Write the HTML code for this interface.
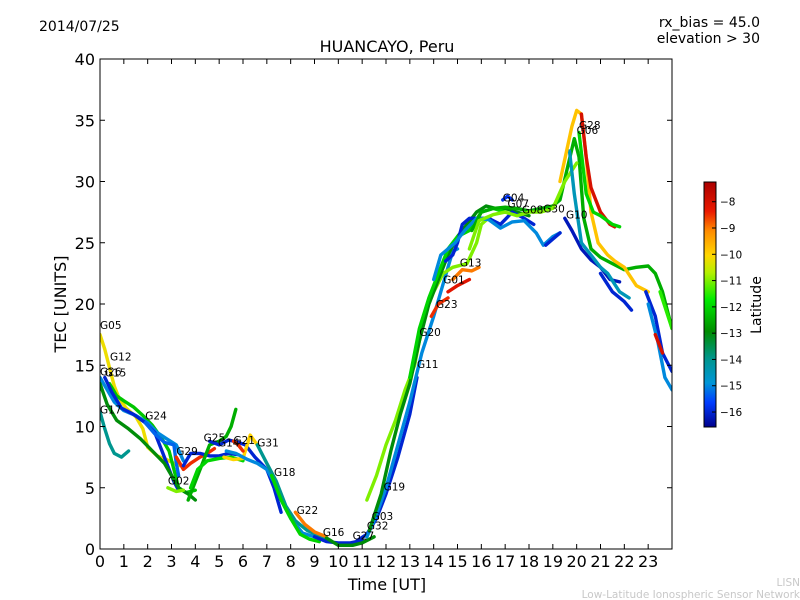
<!DOCTYPE html>
<html><head><meta charset="utf-8"><style>
html,body{margin:0;padding:0;background:#fff;}
svg{display:block;font-family:"DejaVu Sans","Liberation Sans",sans-serif;}
</style></head><body>
<svg id="chart" width="800" height="600" viewBox="0 0 800 600" xmlns="http://www.w3.org/2000/svg">
<rect x="0" y="0" width="800" height="600" fill="#fff"/>
<text x="39" y="31" font-size="14">2014/07/25</text>
<text x="760" y="27" font-size="14" text-anchor="end">rx_bias = 45.0</text>
<text x="760" y="43" font-size="14" text-anchor="end">elevation &gt; 30</text>
<text x="387" y="52" font-size="16" text-anchor="middle">HUANCAYO, Peru</text>
<g id="plot"></g>
<g id="axes"></g>
<text x="387" y="590" font-size="16" text-anchor="middle">Time [UT]</text>
<text x="0" y="0" font-size="16" text-anchor="middle" transform="translate(66,304) rotate(-90)">TEC [UNITS]</text>
<defs><linearGradient id="jet" x1="0" y1="1" x2="0" y2="0"></linearGradient></defs>
<g id="cbar"></g>
<text x="0" y="0" font-size="14" text-anchor="middle" transform="translate(761,305) rotate(-90)">Latitude</text>
<text x="800" y="586" font-size="10.5" fill="#c8c8c8" text-anchor="end">LISN</text>
<text x="800" y="598" font-size="10.5" fill="#c8c8c8" text-anchor="end">Low-Latitude Ionospheric Sensor Network</text>
</svg>
<script>
const trackNames=["G05","G12","G15","G26","G17a","G17b","G24","G02","G29","G29b","G25","G25b","G14","G21","G21b","G31","G31b","G18","G22","G16","G27","G32","G03","G19","G11","G20","G23","G01","G13","G13b","G13c","G30","G30b","G10","G10b","G06","G28","G06b","G09a","G09b","G09c","G09d","G10c","G19b","G04"];
const trackLats=[-10.2,-12.2,-15,-16,-14,-13,-15.3,-11,-8.5,-16,-12.5,-12,-16,-10,-8.5,-15,-14,-12,-9,-16,-13,-16,-15,-11,-13,-12,-8.5,-8.2,-9,-16,-15,-12.5,-11,-16.2,-14.5,-9.8,-8,-12,-16,-15,-8,-11.5,-16,-16,-15.8];
const trackTimes=[
[0,0.2,0.4,0.6,0.8,1.1,1.5,1.8,2,2.4,2.8,3.1,3.3],
[0.4,0.7,1,1.4,1.8,2.2,2.6,2.9,3.1,3.3,3.6,4],
[0,0.3,0.6,1,1.5,2,2.4,2.8,3.2,3.5],
[0.2,0.5,0.9,1.4,1.9,2.3,2.6,2.9,3.1,3.3],
[0,0.2,0.4,0.6,0.9,1.2],
[0,0.3,0.7,1.2,1.7,2.2,2.7,3,3.3,3.7,4],
[1.9,2.3,2.7,3.1,3.2,3.3],
[2.85,3.2,3.5],
[3.2,3.5,3.8,4.2,4.5,4.8],
[3.5,3.8,4.2,4.6,5,5.4,5.8],
[3.7,4,4.3,4.6,5,5.3,5.5,5.7],
[3.8,4.1,4.5,5,5.5,6],
[4.6,5,5.4,5.8,6.1,6.5,7,7.3,7.6],
[5.2,5.6,6,6.3,6.6],
[5.6,5.8,6],
[5.3,5.7,6.2,6.6,7,7.3,7.6,8,8.5,9,9.5],
[6.6,7,7.4,7.8,8.2,8.7,9.2,9.6],
[7.2,7.6,8,8.4,8.8,9.2],
[8.2,8.6,9,9.5],
[9,9.5,10,10.5,11],
[9.5,10,10.6,11,11.5],
[10.8,11.2,11.6,12,12.5,13,13.3],
[11.2,11.6,12,12.5,13,13.5,14,14.3,14.6,14.8,15],
[11.2,11.6,12,12.4,12.8,13.2,13.6,14,14.4,14.8,15.4,15.8,16,16.4],
[11.3,11.8,12.2,12.6,13,13.4,13.8,14.2,14.6,15,15.4,15.8,16.2,16.6,17,17.5,18],
[13,13.4,13.8,14.2,14.6,15,15.5,16,16.5,17],
[13.9,14.2,14.6],
[14.6,15,15.5],
[14.8,15.2,15.6,15.9],
[14.5,14.8,15,15.2,15.5,15.8,16.3,16.8,17.3,17.8,18.2],
[14,14.3,14.6,14.9,15.3,15.8,16.3,16.8,17.3,17.8,18.3,18.6,19,19.3],
[15.6,16,16.5,17,17.5,18,18.5,19,19.3,19.6,19.9,20.1,20.3,20.6,21,21.5,22,22.5,23,23.3,23.6,24],
[15.5,15.9,16.5,17,17.5,18,18.5,19,19.5,20],
[19.5,19.8,20.2,20.6,21,21.4,21.8],
[19.7,19.9,20.2,20.6,21,21.3,21.8,22.2],
[19.3,19.8,20,20.2,20.4,20.6,20.9,21.3,21.6,22,22.5,23],
[20.2,20.4,20.6,21,21.4,21.6],
[20.1,20.4,20.7,21,21.5,21.8],
[22.9,23.3,23.6,24],
[23,23.4,23.7,24],
[23.3,23.6],
[23.5,24],
[21,21.5,22,22.3],
[18.7,19,19.3],
[16.9,17.1,17.3]
];
const trackTec=[
[17.5,16.3,14.8,13.3,12.3,11.5,10.8,9.8,8.3,7.6,7.3,7,6.8],
[13.5,12.5,12.1,11.6,10.9,10.1,9,8,6.5,5,4.6,4.8],
[14,13,12,11.3,10.9,10.3,9.5,9,8.5,7.2],
[14,12.8,11.5,11,10.3,9.5,8,6.5,5.5,4.8],
[11.2,9.8,8.6,7.8,7.5,8],
[13.5,11.8,10.5,9.8,9,8,7,6,5,4.5,4],
[10.3,9.4,8.7,8.5,7,6],
[5,4.7,4.8],
[7.5,6.5,7,7.5,7.8,8.2],
[6.8,7.8,7.8,7.6,7.6,7.8,7.7],
[4,5.5,7,8.5,8.8,9.2,10,11.4],
[5,6.5,7.2,7.4,7.5,7.2],
[8.8,8.5,8.9,8.7,8.5,7.5,6.5,5,3],
[7.5,7.3,7.4,9.3,8.5],
[8.8,8.5,8],
[8,7.8,7.3,7,6.5,5.5,4,2.5,1.3,1,0.8],
[8.5,7,5.5,3.5,2.3,1.5,1.1,0.7],
[6,4,2.5,1.2,0.8,0.6],
[3,2,1.4,1],
[1,0.6,0.5,0.5,0.7],
[0.9,0.3,0.3,0.5,1],
[0.7,1.2,2.5,4.5,7.5,11,14],
[1,2.8,5,8.5,12,16,19,21,23,24.3,24.5],
[4,6,8.5,10.5,13,15,19,21,22.5,23,23.3,25,26.5,27.2],
[1.5,4.5,8,11,13.5,17,20,22,24,25.5,26.5,27.5,28,27.8,27.8,27.5,27.2],
[14,18,20.5,22.5,24.5,25.5,26,27.5,27.8,27.5],
[19,20,20.5],
[21,21.5,22],
[22,22.8,22.7,23],
[23.5,24,25,26.5,27,27,27,26.5,27.5,27,26.5],
[22,24,24.5,25,26,27,26.9,26.2,26.7,26.8,25.8,24.8,25.5,25.8],
[26,27.5,27.8,27.9,27.8,27.6,27.8,28,28.5,31,33.5,32,27,24.5,23.8,23.3,22.8,23,23.1,22.5,21,18],
[24.5,26.8,27.3,27.5,27.2,27.5,27.5,27.8,30,31.5],
[27,26,24.5,23.6,23,22,21.8],
[32.5,29,25,24,23,22.5,21,20.5],
[30,34.5,35.8,35.5,32,27.5,25,24,23.5,23,21.5,21],
[35.5,32,29.5,27.5,26.5,26.3],
[34,29,27.5,27.2,26.5,26.3],
[21,19,16,14.5],
[20,17,14,13],
[17.5,16],
[21,18],
[22.5,21,20.2,19.5],
[24.8,25.3,25.8],
[28.5,28.8,28.5]
];
const xTicks=[0,1,2,3,4,5,6,7,8,9,10,11,12,13,14,15,16,17,18,19,20,21,22,23];
const yTicks=[0,5,10,15,20,25,30,35,40];
const cbTicks=[-8,-9,-10,-11,-12,-13,-14,-15,-16];
const labelNames=["G05","G12","G26","G15","G17","G24","G29","G25","G14","G21","G31","G02","G18","G22","G16","G27","G32","G03","G19","G11","G20","G23","G01","G13","G04","G07","G08","G30","G10","G28","G06"];
const labelT=[0,0.42,0,0.2,0,1.9,3.2,4.35,4.95,5.6,6.6,2.85,7.3,8.25,9.35,10.6,11.2,11.4,11.9,13.3,13.4,14.1,14.4,15.1,16.9,17.1,17.7,18.6,19.55,20.1,20];
const labelV=[18.3,15.7,14.5,14.4,11.4,10.9,8,9.1,8.7,8.9,8.7,5.6,6.3,3.2,1.4,1.1,1.9,2.7,5.1,15.1,17.7,20,22,23.4,28.7,28.2,27.7,27.8,27.3,34.6,34.2];

const NS="http://www.w3.org/2000/svg";
const X0=100,X1=672,Y0=549,Y1=59;
const xs=t=>X0+t*(X1-X0)/24;
const ys=v=>Y0-v*(Y0-Y1)/40;
const cbTop=182,cbBot=427,latMax=-7.25,latMin=-16.57;
const cbY=l=>cbTop+(latMax-l)*(cbBot-cbTop)/(latMax-latMin);
const stops=[[0,[0,0,140]],[0.1,[0,60,255]],[0.18,[0,150,215]],[0.28,[0,150,140]],[0.39,[0,140,0]],[0.52,[0,235,0]],[0.63,[180,240,0]],[0.7,[255,215,0]],[0.8,[255,140,0]],[0.88,[235,25,0]],[1,[170,0,0]]];
function cmap(l){
  let f=(l-latMin)/(latMax-latMin);f=Math.max(0,Math.min(1,f));
  for(let i=1;i<stops.length;i++){if(f<=stops[i][0]){const a=stops[i-1],b=stops[i];const k=(f-a[0])/(b[0]-a[0]);
    const c=a[1].map((v,j)=>Math.round(v+(b[1][j]-v)*k));return `rgb(${c[0]},${c[1]},${c[2]})`;}}
  return "rgb(170,0,0)";
}
function mk(tag,attrs,parent){const e=document.createElementNS(NS,tag);for(const k in attrs)e.setAttribute(k,attrs[k]);parent.appendChild(e);return e;}
const plot=document.getElementById('plot');
mk('rect',{x:X0,y:Y1,width:X1-X0,height:Y0-Y1,fill:'#fff'},plot);
const clip=mk('clipPath',{id:'pc'},plot);mk('rect',{x:X0,y:Y1,width:X1-X0,height:Y0-Y1},clip);
const lines=mk('g',{'clip-path':'url(#pc)'},plot);
trackNames.forEach((n,i)=>{
  const pts=trackTimes[i].map((t,j)=>xs(t).toFixed(1)+','+ys(trackTec[i][j]).toFixed(1)).join(' ');
  const pl=mk('polyline',{points:pts,fill:'none',stroke:cmap(trackLats[i]),'stroke-width':3.4,'stroke-linejoin':'round','stroke-linecap':'round'},lines);
  
  
});
labelNames.forEach((n,i)=>{
  const t=mk('text',{x:xs(labelT[i]),y:ys(labelV[i])+4,'font-size':10.5},plot);
  t.textContent=n;
  
  
});
const ax=document.getElementById('axes');
mk('rect',{x:X0,y:Y1,width:X1-X0,height:Y0-Y1,fill:'none',stroke:'#000','stroke-width':1},ax);
xTicks.forEach(t=>{
  const x=xs(t);
  mk('line',{x1:x,y1:Y0,x2:x,y2:Y0-5,stroke:'#000'},ax);
  mk('line',{x1:x,y1:Y1,x2:x,y2:Y1+5,stroke:'#000'},ax);
  const tx=mk('text',{x:x,y:Y0+18,'font-size':16,'text-anchor':'middle'},ax);tx.textContent=t;
  
  
});
yTicks.forEach(v=>{
  const y=ys(v);
  mk('line',{x1:X0,y1:y,x2:X0+5,y2:y,stroke:'#000'},ax);
  mk('line',{x1:X1,y1:y,x2:X1-5,y2:y,stroke:'#000'},ax);
  const tx=mk('text',{x:X0-5,y:y+6,'font-size':16,'text-anchor':'end'},ax);tx.textContent=v;
  
  
});
const grad=document.getElementById('jet');
stops.forEach(s=>mk('stop',{offset:s[0],'stop-color':`rgb(${s[1].join(',')})`},grad));
const cb=document.getElementById('cbar');
mk('rect',{x:704,y:cbTop,width:12,height:cbBot-cbTop,fill:'url(#jet)',stroke:'#000','stroke-width':1},cb);
cbTicks.forEach(l=>{
  const y=cbY(l);
  mk('line',{x1:712,y1:y,x2:716,y2:y,stroke:'#000'},cb);
  const tx=mk('text',{x:720,y:y+4,'font-size':10.5},cb);tx.textContent='\u2212'+Math.abs(l);
  
  
});
</script>
</body></html>
